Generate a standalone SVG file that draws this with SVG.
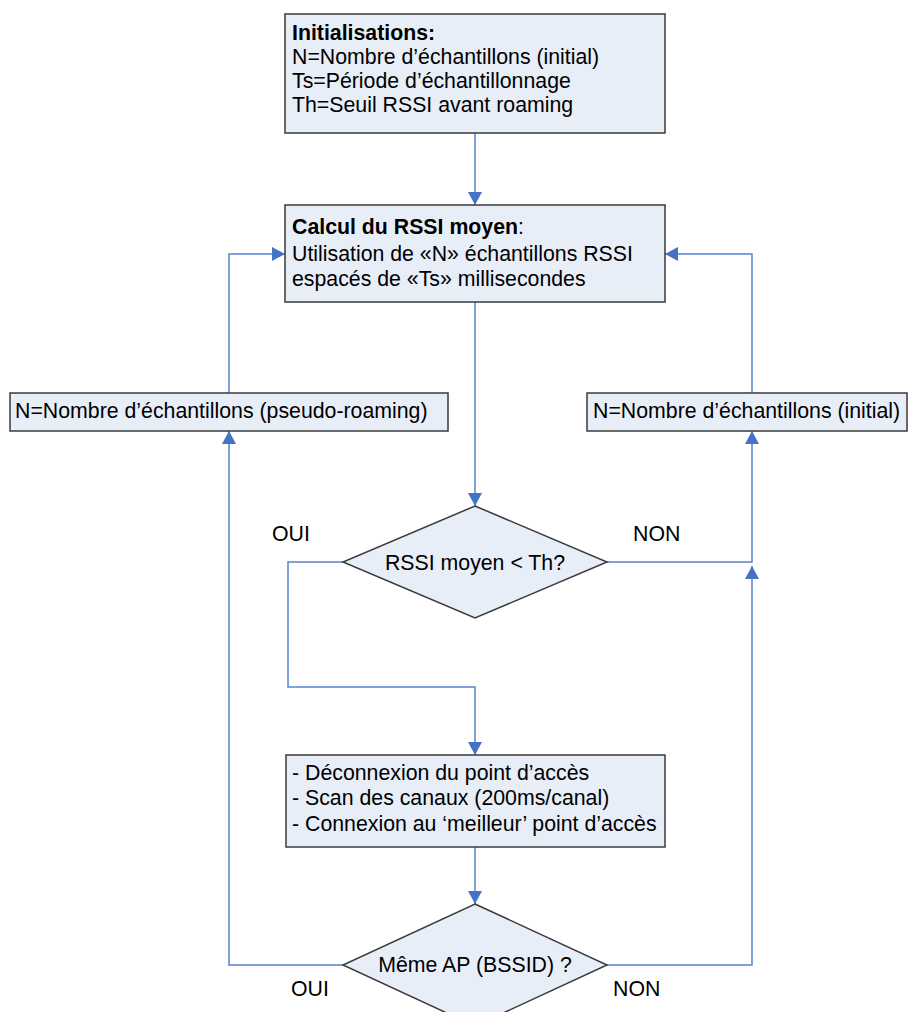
<svg xmlns="http://www.w3.org/2000/svg" width="909" height="1012" viewBox="0 0 909 1012">
<style>
.box{fill:#E8EEF8;stroke:#3A3A3A;stroke-width:1.5}
.t{font-family:"Liberation Sans",Arial,sans-serif;font-size:21.3px;fill:#000}
.b{font-weight:bold}
.c{text-anchor:middle}
.ln{fill:none;stroke:#5585CC;stroke-width:1.5}
</style>
<defs>
<marker id="ah" viewBox="0 0 13 14" refX="13" refY="7" markerWidth="13" markerHeight="14" markerUnits="userSpaceOnUse" orient="auto">
<path d="M0,0 L13,7 L0,14 z" fill="#4472C4"/>
</marker>
</defs>
<rect width="909" height="1012" fill="#fff"/>
<g id="connectors">
<path class="ln" marker-end="url(#ah)" d="M475,133 V205"/>
<path class="ln" marker-end="url(#ah)" d="M475,302 V506"/>
<path class="ln" marker-end="url(#ah)" d="M343,562 H288 V687 H475 V755"/>
<path class="ln" marker-end="url(#ah)" d="M607,562 H752 V431"/>
<path class="ln" marker-end="url(#ah)" d="M752,393 V254 H665"/>
<path class="ln" marker-end="url(#ah)" d="M229,393 V254 H285"/>
<path class="ln" marker-end="url(#ah)" d="M475,847 V904"/>
<path class="ln" marker-end="url(#ah)" d="M343,965 H229 V431"/>
<path class="ln" marker-end="url(#ah)" d="M607,965 H752 V566"/>
</g>
<g id="init">
<rect class="box" x="285" y="14" width="380" height="119"/>
<text class="t b" x="292" y="40">Initialisations:</text>
<text class="t" x="292" y="64">N=Nombre d’échantillons (initial)</text>
<text class="t" x="292" y="88">Ts=Période d’échantillonnage</text>
<text class="t" x="292" y="112">Th=Seuil RSSI avant roaming</text>
</g>
<g id="calcul">
<rect class="box" x="285" y="205" width="380" height="97"/>
<text class="t" x="292" y="234"><tspan class="b">Calcul du RSSI moyen</tspan>:</text>
<text class="t" x="292" y="261">Utilisation de «N» échantillons RSSI</text>
<text class="t" x="292" y="286">espacés de «Ts» millisecondes</text>
</g>
<g id="pseudo">
<rect class="box" x="10" y="393" width="438" height="38"/>
<text class="t" x="15" y="418">N=Nombre d’échantillons (pseudo-roaming)</text>
</g>
<g id="initial">
<rect class="box" x="587" y="393" width="320" height="38"/>
<text class="t" x="593" y="418">N=Nombre d’échantillons (initial)</text>
</g>
<g id="test1">
<polygon class="box" points="475,506 607,562 475,618 343,562"/>
<text class="t c" x="475" y="570">RSSI moyen &lt; Th?</text>
</g>
<g id="roam">
<rect class="box" x="286" y="755" width="379" height="92"/>
<text class="t" x="292" y="780">- Déconnexion du point d’accès</text>
<text class="t" x="292" y="805">- Scan des canaux (200ms/canal)</text>
<text class="t" x="292" y="831">- Connexion au ‘meilleur’ point d’accès</text>
</g>
<g id="test2">
<polygon class="box" points="475,904 607,965 475,1026 343,965"/>
<text class="t c" x="475" y="972">Même AP (BSSID) ?</text>
</g>
<g id="labels">
<text class="t" x="272" y="541">OUI</text>
<text class="t" x="633" y="541">NON</text>
<text class="t" x="291" y="996">OUI</text>
<text class="t" x="613" y="996">NON</text>
</g>
</svg>
